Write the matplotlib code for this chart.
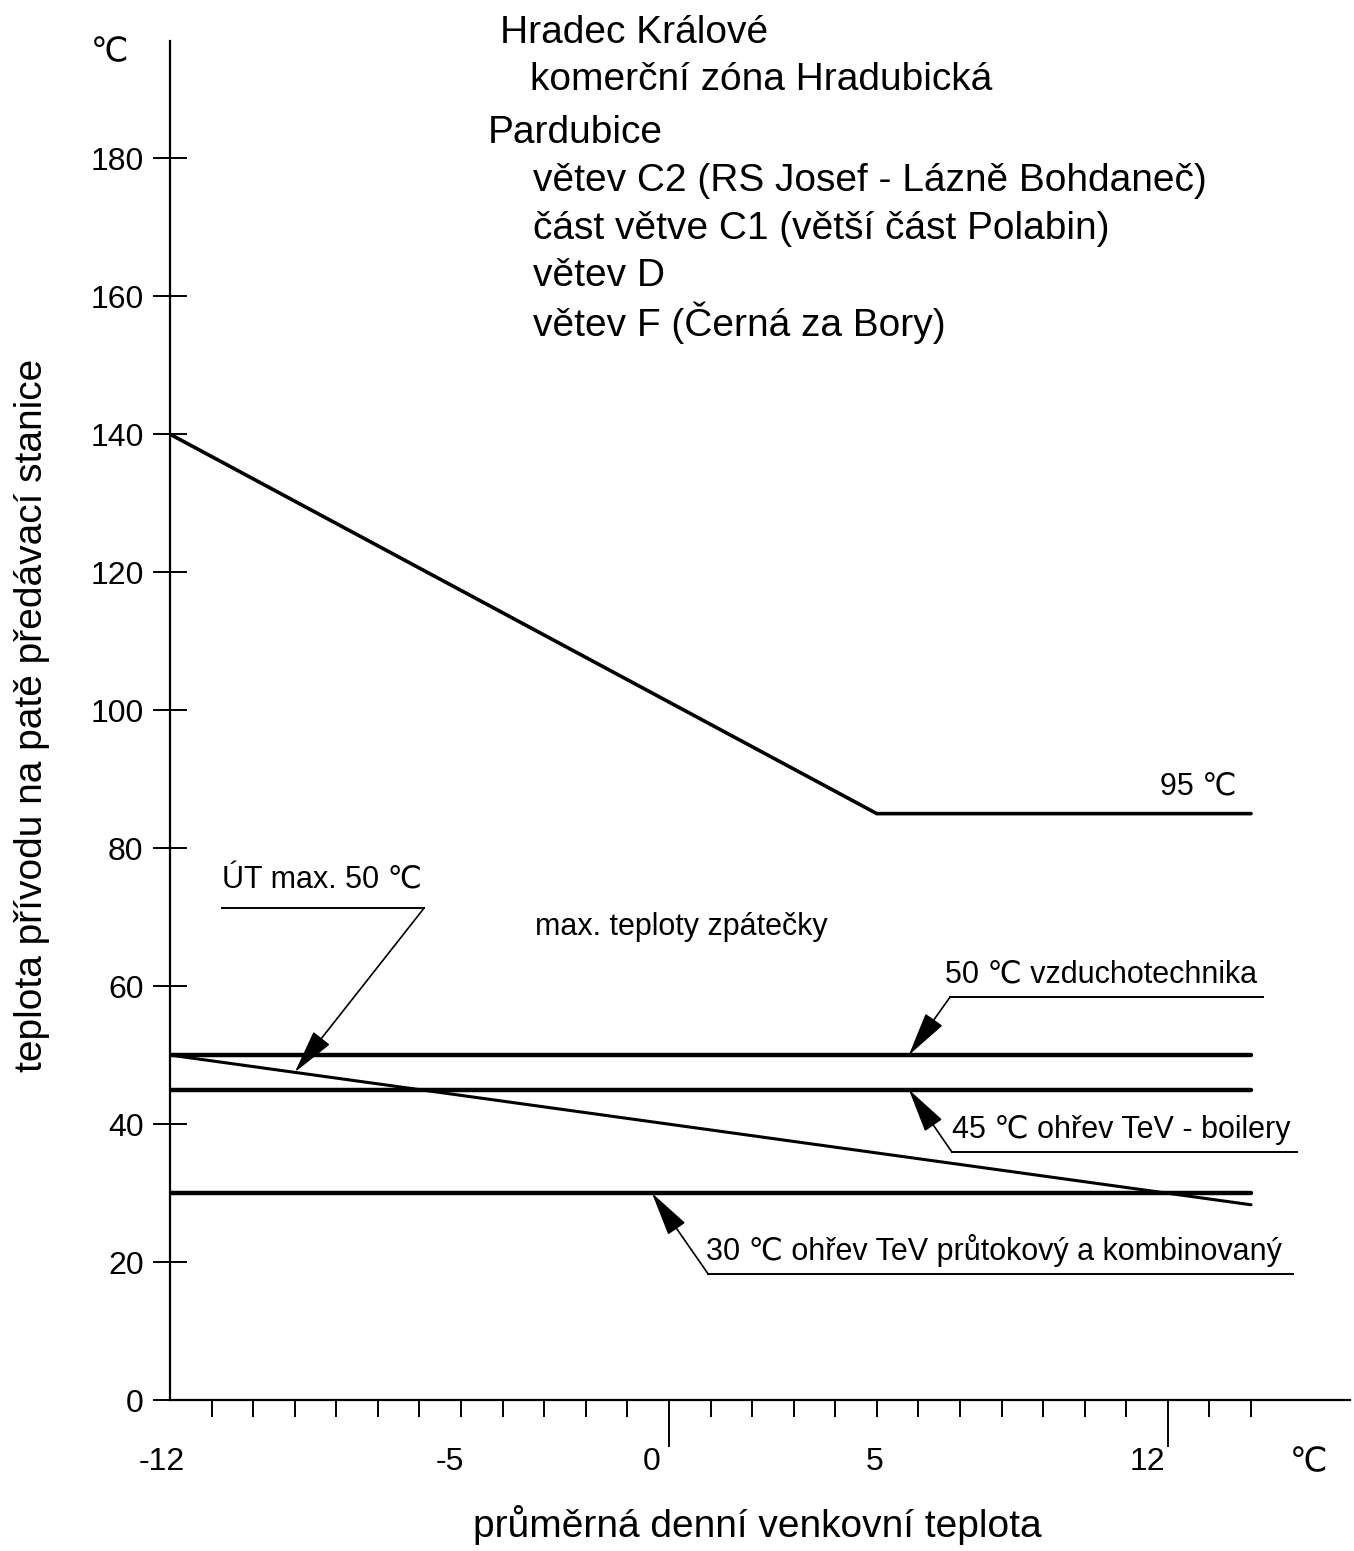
import matplotlib.pyplot as plt
from matplotlib.patches import FancyArrowPatch

plt.rcParams['font.family'] = ['Liberation Sans Narrow', 'Liberation Sans', 'DejaVu Sans']

# data
supply_x = [-12, 5, 14]
supply_y = [140, 85, 85]
return_x = [-12, 14]
return_y = [50, 28.3]
levels = [50, 45, 30]
level_x = [-12, 14]

yticks = list(range(0, 181, 20))
xtick_vals = [-12, -5, 0, 5, 12]
xtick_labels = ['-12', '-5', '0', '5', '12']
minor_x = list(range(-11, 15))
major_x = [0, 12]

title_lines = [
    "Hradec Králové",
    "komerční zóna Hradubická",
    "Pardubice",
    "větev C2 (RS Josef - Lázně Bohdaneč)",
    "část větve C1 (větší část Polabin)",
    "větev D",
    "větev F (Černá za Bory)",
]

W, H = 1354, 1551
fig = plt.figure(figsize=(W / 100, H / 100), dpi=100)
ax = fig.add_axes([170 / W, 151 / H, 1180 / W, 1359 / H])
ax.set_xlim(-12, 16.38)
ax.set_ylim(0, 197)

for s in ['top', 'right']:
    ax.spines[s].set_visible(False)
for s in ['left', 'bottom']:
    ax.spines[s].set_linewidth(1.6)

# lines
ax.plot(supply_x, supply_y, color='black', lw=2.6, solid_capstyle='round')
for lv in levels:
    ax.plot(level_x, [lv, lv], color='black', lw=3.2, solid_capstyle='round')
ax.plot(return_x, return_y, color='black', lw=2.2, solid_capstyle='round')

# y ticks
ax.set_yticks(yticks)
ax.tick_params(axis='y', direction='inout', length=24, width=1.4, pad=7, labelsize=23)

# x ticks
ax.set_xticks(major_x)
ax.set_xticklabels([])
ax.set_xticks(minor_x, minor=True)
ax.tick_params(axis='x', which='major', direction='out', length=34, width=1.4)
ax.tick_params(axis='x', which='minor', direction='out', length=12, width=1.4)

shift = {-12: -0.2, -5: -0.27, 0: -0.41, 5: -0.06, 12: -0.48}
for v, lab in zip(xtick_vals, xtick_labels):
    ax.text(v + shift[v], -9.0, lab, ha='center', va='center', fontsize=23, clip_on=False)
ax.text(15.39, -9.0, '℃', ha='center', va='center', fontsize=24, clip_on=False,
        family=['DejaVu Sans'])

fig.text(110 / W, 1 - 52 / H, '℃', ha='center', va='center', fontsize=24, family=['DejaVu Sans'])
fig.text(757 / W, 1 - 1525 / H, 'průměrná denní venkovní teplota', ha='center', va='center',
         fontsize=28)
fig.text(32 / W, 1 - 715 / H, 'teplota přívodu na patě předávací stanice', ha='center',
         va='center', rotation=90, fontsize=28)

# title block
title_y = [198.1, 191.3, 183.6, 176.7, 169.7, 163.0, 156.1]
title_x = [-4.06, -3.34, -4.35, -3.27, -3.27, -3.27, -3.27]
for tx, ty, t in zip(title_x, title_y, title_lines):
    ax.text(tx, ty, t, ha='left', va='center', fontsize=28, clip_on=False)

ax.text(11.81, 89.0, '95 ℃', ha='left', va='center', fontsize=22)
ax.text(-3.23, 68.5, 'max. teploty zpátečky', ha='left', va='center', fontsize=22)


def leader(text, tip, elbow, line_end, text_pos):
    ax.plot([elbow[0], line_end], [elbow[1], elbow[1]], color='black', lw=1.4)
    arr = FancyArrowPatch(elbow, tip, arrowstyle='-|>,head_length=1.4,head_width=0.33',
                          mutation_scale=20, color='black', lw=1.2,
                          shrinkA=0, shrinkB=0)
    ax.add_patch(arr)
    ax.text(text_pos[0], text_pos[1], text, ha='left', va='center', fontsize=22)


leader('ÚT max. 50 ℃', (-9.0, 47.5), (-5.89, 71.3), -10.75, (-10.75, 75.3))
leader('50 ℃ vzduchotechnika', (5.77, 50), (6.76, 58.4), 14.29, (6.65, 61.7))
leader('45 ℃ ohřev TeV - boilery', (5.77, 45), (6.81, 35.9), 15.1, (6.81, 39.1))
leader('30 ℃ ohřev TeV průtokový a kombinovaný', (-0.41, 30), (0.94, 18.3), 15.0, (0.90, 21.7))

fig.savefig('out.png', dpi=100, facecolor='white')
